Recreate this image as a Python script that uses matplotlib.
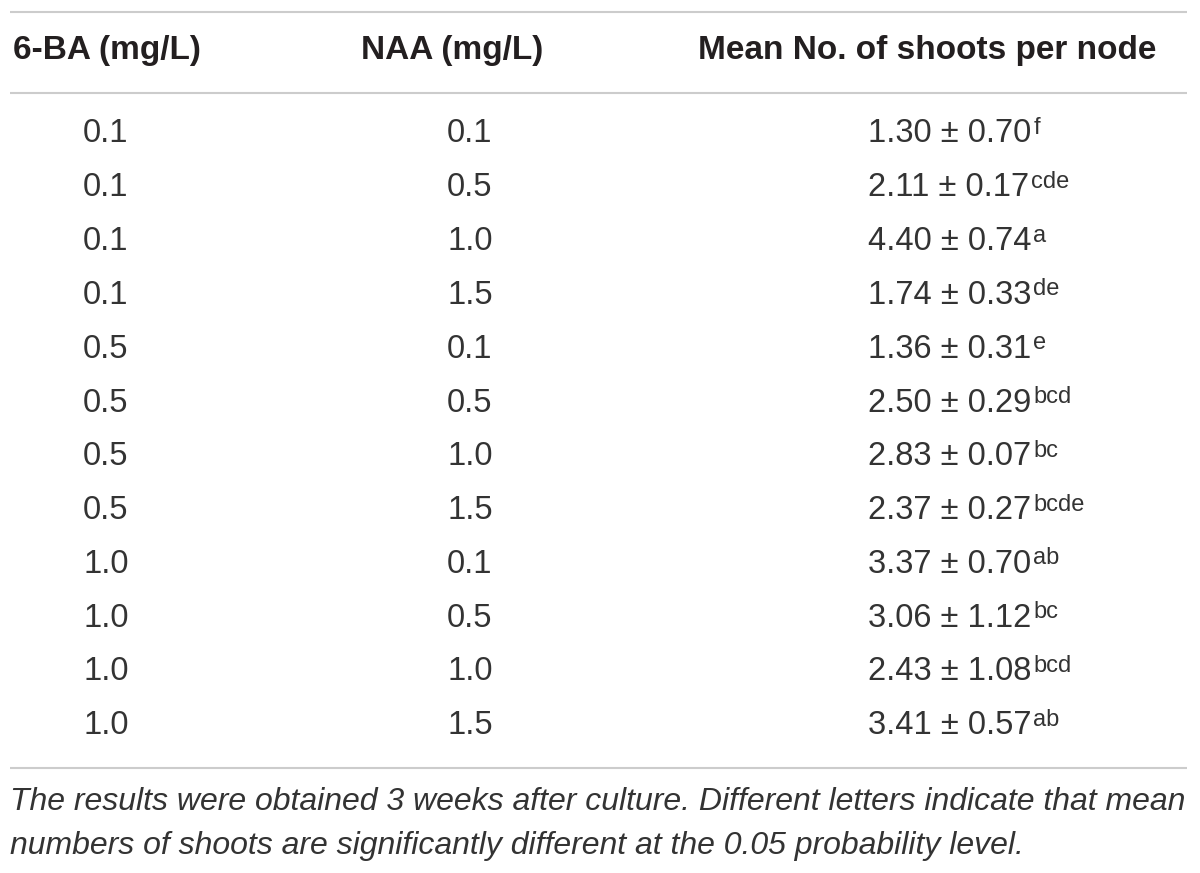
import matplotlib
matplotlib.use("Agg")
import matplotlib.pyplot as plt

plt.rcParams['font.family'] = ['Liberation Sans', 'DejaVu Sans']

headers = ["6-BA (mg/L)", "NAA (mg/L)", "Mean No. of shoots per node"]
ba = ["0.1", "0.1", "0.1", "0.1", "0.5", "0.5", "0.5", "0.5", "1.0", "1.0", "1.0", "1.0"]
naa = ["0.1", "0.5", "1.0", "1.5", "0.1", "0.5", "1.0", "1.5", "0.1", "0.5", "1.0", "1.5"]
means = ["1.30", "2.11", "4.40", "1.74", "1.36", "2.50", "2.83", "2.37", "3.37", "3.06", "2.43", "3.41"]
sds = ["0.70", "0.17", "0.74", "0.33", "0.31", "0.29", "0.07", "0.27", "0.70", "1.12", "1.08", "0.57"]
letters = ["f", "cde", "a", "de", "e", "bcd", "bc", "bcde", "ab", "bc", "bcd", "ab"]
note = ["The results were obtained 3 weeks after culture. Different letters indicate that mean",
        "numbers of shoots are significantly different at the 0.05 probability level."]

W, H = 1200, 873
fig = plt.figure(figsize=(12, 8.73), dpi=100)
ax = fig.add_axes([0, 0, 1, 1])
ax.set_xlim(0, W)
ax.set_ylim(H, 0)
ax.axis('off')

txt = '#231f20'
body = '#333333'
rule = '#cccccc'

# horizontal rules
for y in [12, 93, 768]:
    ax.plot([10, 1187], [y, y], color=rule, lw=1.5, solid_capstyle='butt')

# header
head_x = [107, 452, 927]
for x, h in zip(head_x, headers):
    ax.text(x, 51, h, ha='center', va='center', fontsize=24, fontweight='bold', color=txt)

# body rows
col_x = [83, 447, 868]
row0, step = 134, 53.8
fig.canvas.draw()
renderer = fig.canvas.get_renderer()
for i in range(len(ba)):
    y = row0 + i * step
    ax.text(col_x[0], y, ba[i], ha='left', va='center', fontsize=23.5, color=body)
    ax.text(col_x[1], y, naa[i], ha='left', va='center', fontsize=23.5, color=body)
    t = ax.text(col_x[2], y, means[i] + " \u00b1 " + sds[i], ha='left', va='center',
                fontsize=23.5, color=body)
    bb = t.get_window_extent(renderer=renderer)
    x_end = bb.x1 * W / fig.bbox.width
    ax.text(x_end + 2, y, letters[i], ha='left', va='baseline', fontsize=17, color=body)

# footnote
for j, line in enumerate(note):
    ax.text(10, 802 + j * 44, line, ha='left', va='center', fontsize=23,
            fontstyle='italic', color=body)

fig.savefig('out.png', dpi=100)
